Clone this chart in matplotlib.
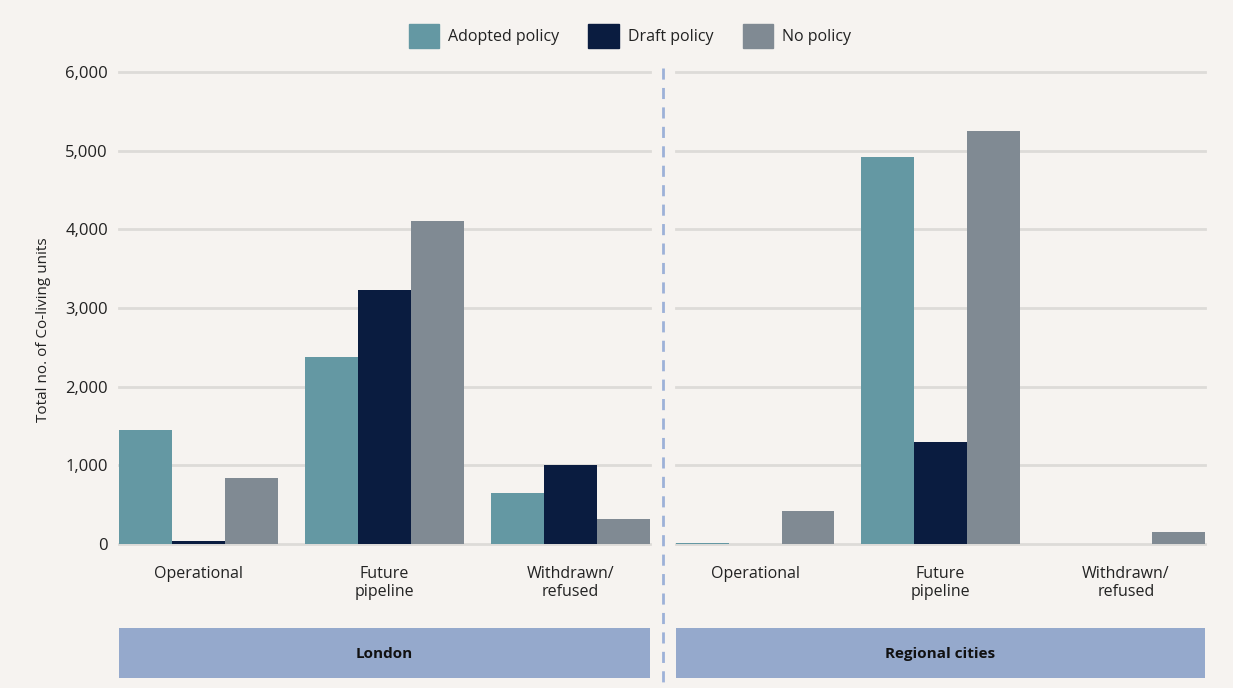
import matplotlib.pyplot as plt
from matplotlib.lines import Line2D
from matplotlib.patches import Rectangle
import numpy as np

plt.rcParams['font.family'] = ['Open Sans', 'DejaVu Sans']

# Co-living units by status and planning policy
categories = ["Operational", "Future\npipeline", "Withdrawn/\nrefused"]
series = ["Adopted policy", "Draft policy", "No policy"]
london = {
    "Adopted policy": [1450, 2380, 650],
    "Draft policy": [40, 3230, 1000],
    "No policy": [840, 4100, 320],
}
regional = {
    "Adopted policy": [15, 4920, 0],
    "Draft policy": [0, 1300, 0],
    "No policy": [420, 5250, 150],
}
regions = ["London", "Regional cities"]
yticks = [0, 1000, 2000, 3000, 4000, 5000, 6000]

colors = {"Adopted policy": "#6498A3", "Draft policy": "#0A1C40", "No policy": "#808A93"}
bg = "#F6F3F0"
grid_c = "#DDDBD8"
band_c = "#95A9CC"
text_c = "#222222"

W, H = 1233, 688
fig = plt.figure(figsize=(W / 100, H / 100), dpi=100)
fig.patch.set_facecolor(bg)


def px_axes(x0, y0, x1, y1):
    # place axes using pixel coordinates measured from the top-left corner
    return fig.add_axes([x0 / W, 1 - y1 / H, (x1 - x0) / W, (y1 - y0) / H])


bw = 0.285
x = np.arange(len(categories))
panels = [(119, 650, london), (676, 1205, regional)]

for i, (x0, x1, data) in enumerate(panels):
    ax = px_axes(x0, 72, x1, 544)
    ax.set_facecolor("none")
    for yv in yticks:
        ax.axhline(yv, color=grid_c, lw=2, zorder=0, clip_on=False)
    for j, s in enumerate(series):
        ax.bar(x + (j - 1) * bw, data[s], width=bw, color=colors[s], zorder=2)
    ax.set_xlim(-1.5 * bw, len(categories) - 1 + 1.5 * bw)
    ax.set_ylim(0, 6000)
    ax.set_yticks(yticks)
    ax.set_xticks(x)
    ax.set_xticklabels(categories, fontsize=11.5, color=text_c, linespacing=1.15, va="top")
    ax.tick_params(axis="x", length=0, pad=16)
    ax.tick_params(axis="y", length=0, pad=8)
    for sp in ax.spines.values():
        sp.set_visible(False)
    if i == 0:
        ax.set_yticklabels([f"{v:,}" for v in yticks], fontsize=12, color=text_c)
        ax.set_ylabel("Total no. of Co-living units", fontsize=11, color=text_c)
        ax.yaxis.set_label_coords(-0.128, 0.453)
    else:
        ax.set_yticklabels([])

    # region band underneath the categories
    fig.add_artist(Rectangle((x0 / W, 1 - 678 / H), (x1 - x0) / W, 50 / H,
                             transform=fig.transFigure, facecolor=band_c, edgecolor="none"))
    fig.text((x0 + x1) / 2 / W, 1 - 654 / H, regions[i], ha="center", va="center",
             fontsize=11, fontweight="bold", color="#111111")

# dashed divider between the two regions
fig.add_artist(Line2D([663 / W, 663 / W], [1 - 68 / H, 0], transform=fig.transFigure,
                      color="#9DB1D8", lw=2, linestyle=(0, (4, 3))))

handles = [Rectangle((0, 0), 1, 1, color=colors[s]) for s in series]
fig.legend(handles, series, loc="center", bbox_to_anchor=(630 / W, 1 - 36 / H), ncol=3,
           frameon=False, fontsize=11.5, handlelength=1.9, handleheight=1.9,
           handletextpad=0.6, columnspacing=1.8, labelcolor=text_c)

fig.savefig("out.png", dpi=100, facecolor=bg)
